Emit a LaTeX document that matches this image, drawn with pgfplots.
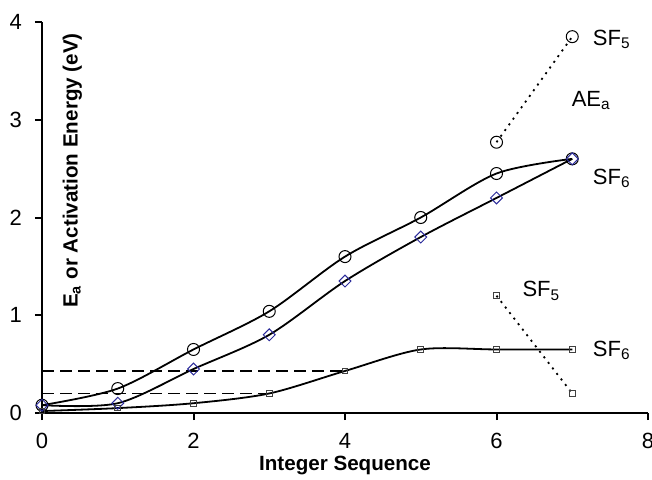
\documentclass[border=0pt]{standalone}
\usepackage{fontspec}
\setmainfont{Liberation Sans}
\usepackage{pgfplots}
\pgfplotsset{compat=1.18}
\usetikzlibrary{calc}
\definecolor{diablue}{HTML}{2B2B9A}
\begin{document}
\begin{tikzpicture}
\begin{axis}[
  scale only axis, width=303pt, height=195.5pt,
  xmin=0, xmax=8, ymin=0, ymax=4,
  axis x line=bottom, axis y line=left,
  axis line style={-, line width=1pt},
  xtick={0,2,...,8}, ytick={0,1,...,4},
  tick align=outside, major tick length=3.5pt,
  tick style={line width=1pt, black},
  /pgf/number format/assume math mode=true,
  tick label style={font=\fontsize{11}{13}\selectfont},
  xticklabel style={yshift=-3pt},
  yticklabel style={xshift=-3pt},
  xlabel={\textbf{Integer Sequence}},
  ylabel={\textbf{E\textsubscript{a} or Activation Energy (eV)}},
  label style={font=\fontsize{10.3}{12}\selectfont},
  xlabel style={at={(axis description cs:0.5,-0.135)}, anchor=center},
  ylabel style={at={(axis description cs:0.05,0.62)}, anchor=center, rotate=0},
  clip=false,
]
% dashed guides
\addplot[black, dash pattern=on 6pt off 3pt, line width=0.9pt] coordinates {(0,0.43) (4,0.43)};
\addplot[black, dash pattern=on 6pt off 3pt, line width=0.9pt] coordinates {(0,0.2) (3,0.2)};
% AEa SF6 circles
\addplot[black, line width=0.9pt, smooth, tension=0.5, mark=o, mark size=3pt, mark options={line width=0.5pt}]
  coordinates {(0,0.08) (1,0.25) (2,0.65) (3,1.04) (4,1.6) (5,2.0) (6,2.45) (7,2.6)};
% diamonds
\addplot[black, line width=0.9pt, smooth, tension=0.5, mark=square, mark size=2.1pt, mark options={draw=diablue, rotate=45, line width=0.5pt}]
  coordinates {(0,0.08) (1,0.1) (2,0.45) (3,0.8) (4,1.35) (5,1.8) (6,2.2) (7,2.6)};
% squares Ea SF6
\addplot[black, line width=0.9pt, smooth, tension=0.5, mark=square, mark size=1.4pt, mark options={draw=black!75, line width=0.5pt}]
  coordinates {(0,0.02) (1,0.05) (2,0.1) (3,0.2) (4,0.43) (5,0.65) (6,0.65) (7,0.65)};
% SF5 dotted
\addplot[black, line width=0.9pt, dash pattern=on 1pt off 2.5pt, mark=o, mark size=3pt, mark options={solid, line width=0.5pt}]
  coordinates {(6,2.77) (7,3.85)};
\addplot[black, line width=0.9pt, dash pattern=on 1pt off 2.5pt, mark=square, mark size=1.4pt, mark options={solid, draw=black!75, line width=0.5pt}]
  coordinates {(6,1.2) (7,0.2)};
% labels
\node[anchor=west, font=\fontsize{11}{13}\selectfont] at (axis cs:7.18,3.82) {SF\textsubscript{5}};
\node[anchor=west, font=\fontsize{11}{13}\selectfont] at (axis cs:6.9,3.2) {AE\textsubscript{a}};
\node[anchor=west, font=\fontsize{11}{13}\selectfont] at (axis cs:7.18,2.4) {SF\textsubscript{6}};
\node[anchor=west, font=\fontsize{11}{13}\selectfont] at (axis cs:6.25,1.25) {SF\textsubscript{5}};
\node[anchor=west, font=\fontsize{11}{13}\selectfont] at (axis cs:7.18,0.64) {SF\textsubscript{6}};
\end{axis}
\pgfresetboundingbox
\useasboundingbox ($(current axis.south west)+(-21pt,-33pt)$) rectangle ($(current axis.north east)+(2pt,11pt)$);
\end{tikzpicture}
\end{document}
